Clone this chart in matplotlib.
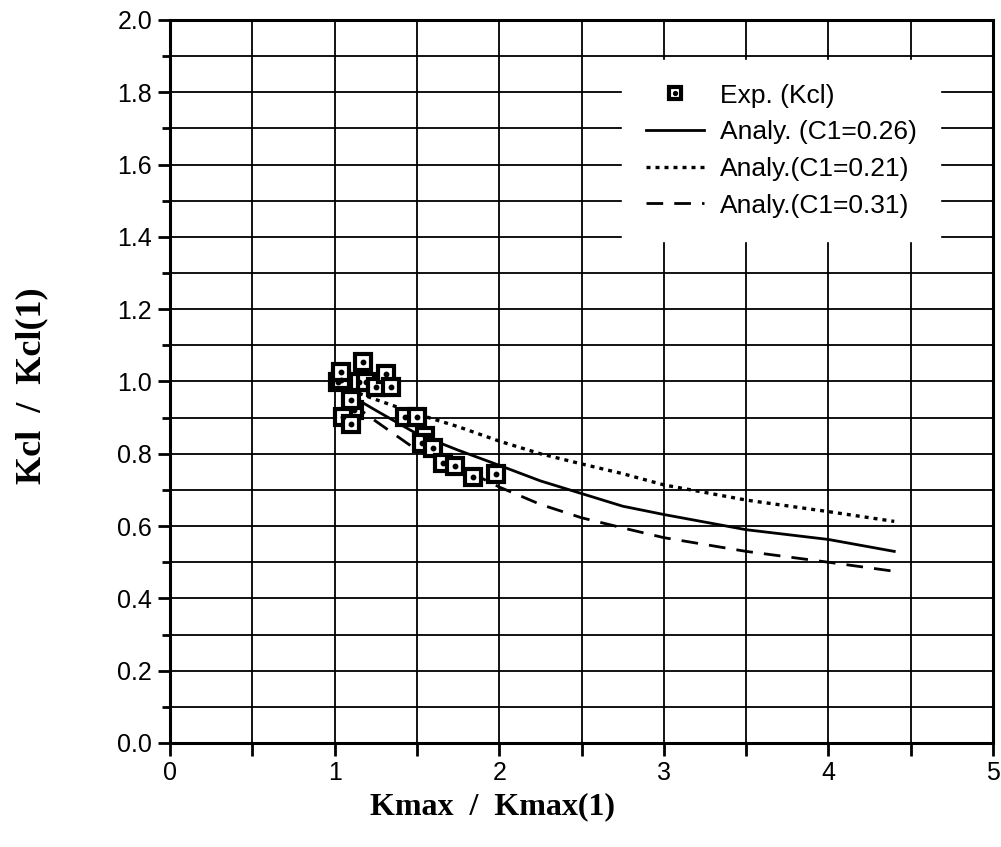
import matplotlib
matplotlib.use("Agg")
import matplotlib.pyplot as plt
from matplotlib.legend_handler import HandlerTuple
from matplotlib.ticker import MultipleLocator, FormatStrFormatter

# experimental points (Kmax/Kmax(1), Kcl/Kcl(1))
exp_x = [1.02, 1.04, 1.04, 1.17, 1.15, 1.19, 1.25, 1.31, 1.34, 1.12, 1.05,
         1.10, 1.10, 1.43, 1.50, 1.55, 1.53, 1.60, 1.66, 1.73, 1.84, 1.98]
exp_y = [0.998, 1.003, 1.025, 1.053, 0.998, 0.998, 0.985, 1.021, 0.985, 0.921,
         0.903, 0.882, 0.950, 0.903, 0.903, 0.848, 0.830, 0.816, 0.775, 0.766,
         0.735, 0.744]

# analytical curves
ana_x = [1.0, 1.1, 1.25, 1.5, 1.75, 2.0, 2.25, 2.5, 2.75, 3.0, 3.5, 4.0, 4.4]
ana_026 = [1.0, 0.96, 0.92, 0.855, 0.81, 0.768, 0.725, 0.69, 0.655, 0.632,
           0.59, 0.563, 0.53]
ana_021 = [1.0, 0.975, 0.95, 0.91, 0.875, 0.835, 0.80, 0.772, 0.745, 0.714,
           0.672, 0.64, 0.613]
ana_031 = [1.0, 0.94, 0.89, 0.81, 0.765, 0.708, 0.66, 0.623, 0.595, 0.568,
           0.53, 0.50, 0.475]

plt.rcParams.update({'font.family': 'Liberation Sans', 'font.size': 18})

fig = plt.figure(figsize=(10.01, 8.47), dpi=100)
ax = fig.add_axes([0.170, 0.1228, 0.822, 0.8536])

# grid
ax.set_xlim(0, 5)
ax.set_ylim(0, 2.0)
ax.xaxis.set_major_locator(MultipleLocator(1))
ax.xaxis.set_minor_locator(MultipleLocator(0.5))
ax.yaxis.set_major_locator(MultipleLocator(0.2))
ax.yaxis.set_minor_locator(MultipleLocator(0.1))
ax.grid(which='both', color='k', linewidth=1.3, zorder=0)
ax.set_axisbelow(True)
ax.yaxis.set_major_formatter(FormatStrFormatter('%.1f'))

for s in ax.spines.values():
    s.set_linewidth(2.2)

ax.tick_params(which='both', direction='out', width=2, colors='k')
ax.tick_params(which='major', length=9, pad=4, labelsize=18)
ax.tick_params(axis='y', which='minor', length=6)
ax.tick_params(axis='x', which='minor', length=9)

# curves
l1, = ax.plot(ana_x, ana_026, color='k', lw=2.0, zorder=3)
l2, = ax.plot(ana_x, ana_021, color='k', lw=2.4, linestyle=(0, (1.2, 1.5)),
              zorder=3)
l3, = ax.plot(ana_x, ana_031, color='k', lw=2.0, linestyle=(0, (6, 4)),
              zorder=3)

# experimental markers: black-edged square with a dot inside
sq, = ax.plot(exp_x, exp_y, linestyle='none', marker='s', markersize=11,
              markerfacecolor='white', markeredgecolor='k',
              markeredgewidth=3.0, zorder=4)
dot, = ax.plot(exp_x, exp_y, linestyle='none', marker='o', markersize=3.2,
               color='k', zorder=5)

leg = ax.legend([(sq, dot), l1, l2, l3],
                ['Exp. (Kcl)', 'Analy. (C1=0.26)', 'Analy.(C1=0.21)',
                 'Analy.(C1=0.31)'],
                handler_map={tuple: HandlerTuple(ndivide=1, pad=0)},
                loc='upper right', bbox_to_anchor=(0.952, 0.963),
                frameon=True, fancybox=False, facecolor='white',
                edgecolor='white', framealpha=1, fontsize=19,
                handlelength=2.2, handletextpad=0.6, labelspacing=0.48,
                borderpad=0.9, markerscale=0.85)
leg.set_zorder(6)

fig.text(0.492, 0.048, 'Kmax  /  Kmax(1)', ha='center', va='center',
         family='Liberation Serif', fontweight='bold', fontsize=23)
fig.text(0.032, 0.545, 'Kcl  /  Kcl(1)', ha='center', va='center',
         rotation=90, family='Liberation Serif', fontweight='bold',
         fontsize=26)

fig.savefig('out.png', dpi=100)
